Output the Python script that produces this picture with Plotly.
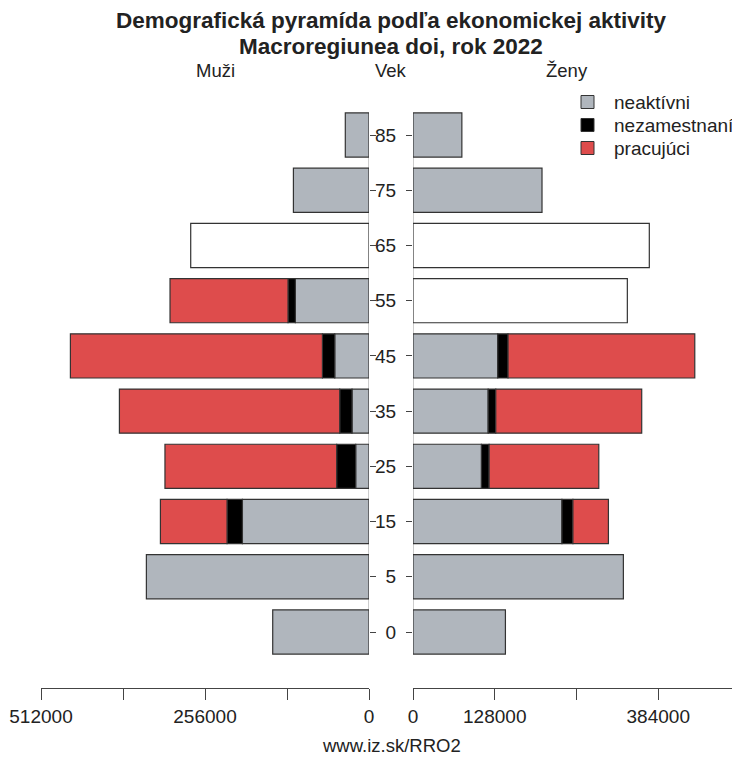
import plotly.graph_objects as go

# vekove skupiny (zdola nahor)
ages = ["0", "5", "15", "25", "35", "45", "55", "65", "75", "85"]

# muzi
men_inactive = [150300, 347500, 197600, 20800, 26500, 53500, 114900, None, 118000, 37000]
men_unemployed = [None, None, 24000, 29700, 19200, 19200, 11500, None, None, None]
men_working = [None, None, 104000, 268000, 343900, 393400, 184200, None, None, None]
men_total_only = [None, None, None, None, None, None, None, 278300, None, None]

# zeny
women_inactive = [144700, 329400, 233200, 107200, 117700, 132700, None, None, 202000, 76500]
women_unemployed = [None, None, 17200, 12000, 11900, 16100, None, None, None, None]
women_working = [None, None, 55600, 171700, 228500, 292400, None, None, None, None]
women_total_only = [None, None, None, None, None, None, 335600, 370000, None, None]

series_names = ["neaktívni", "nezamestnaní", "pracujúci"]
series_colors = ["#B0B6BD", "#000000", "#DE4C4C"]

x_ticks = [0, 128000, 256000, 384000, 512000]
left_tick_text = ["0", "", "256000", "", "512000"]
right_tick_text = ["0", "128000", "", "384000", ""]
x_max = 512000

# stranka ma okraj 8 px (body margin); figura sa musi zmestit bez posuvnikov
PAGE_OFF = 8
W, H = 740 - 2 * PAGE_OFF, 764 - 2 * PAGE_OFF
TOP, BOTTOM = 100 - PAGE_OFF, 688 - PAGE_OFF
FONT = "Liberation Sans, Arial, sans-serif"
TEXT = "#222222"
OUTLINE = dict(color="#333333", width=1.2)

# pravy panel: 0 pri x=413, 512000 by bolo pri x=740 (mimo figury)
right_end_px = PAGE_OFF + W
right_max = x_max * (right_end_px - 413) / (740 - 413)

pos = list(range(len(ages)))


def px_x(x):
    return (x - PAGE_OFF) / W


def px_y(y):
    return (BOTTOM - (y - PAGE_OFF)) / (BOTTOM - TOP)


fig = go.Figure()

men = [men_inactive, men_unemployed, men_working]
women = [women_inactive, women_unemployed, women_working]
for name, color, m, w in zip(series_names, series_colors, men, women):
    fig.add_trace(go.Bar(
        y=pos, x=m, orientation="h", name=name, showlegend=False,
        marker=dict(color=color, line=OUTLINE), width=0.8,
        xaxis="x", yaxis="y",
    ))
    fig.add_trace(go.Bar(
        y=pos, x=w, orientation="h", name=name, showlegend=False,
        marker=dict(color=color, line=OUTLINE), width=0.8,
        xaxis="x2", yaxis="y2",
    ))

fig.add_trace(go.Bar(y=pos, x=men_total_only, orientation="h", showlegend=False,
                     marker=dict(color="white", line=OUTLINE), width=0.8,
                     xaxis="x", yaxis="y"))
fig.add_trace(go.Bar(y=pos, x=women_total_only, orientation="h", showlegend=False,
                     marker=dict(color="white", line=OUTLINE), width=0.8,
                     xaxis="x2", yaxis="y2"))

y_range = [-1.014, 9.634]
axis_common = dict(
    tickvals=x_ticks, showline=True, linecolor="#444444", linewidth=1,
    ticks="outside", ticklen=11, tickcolor="#444444", showgrid=False, zeroline=False,
    tickfont=dict(size=19, color=TEXT, family=FONT), fixedrange=True,
    automargin=False,
)

fig.update_layout(
    width=W, height=H,
    margin=dict(l=0, r=0, t=TOP, b=H - BOTTOM, autoexpand=False),
    paper_bgcolor="white", plot_bgcolor="white",
    barmode="relative", bargap=0.2,
    font=dict(family=FONT, color=TEXT),
    xaxis=dict(domain=[px_x(41), px_x(369)], range=[x_max, 0],
               ticktext=left_tick_text, anchor="y", **axis_common),
    xaxis2=dict(domain=[px_x(413), 1.0], range=[0, right_max],
                ticktext=right_tick_text, anchor="y2", **axis_common),
    yaxis=dict(range=y_range, anchor="x", side="right", tickvals=pos,
               showticklabels=False, ticks="outside", ticklen=6, tickcolor="#444444",
               showline=False, showgrid=False, zeroline=False, automargin=False),
    yaxis2=dict(range=y_range, anchor="x2", side="left", tickvals=pos, ticktext=ages,
                ticks="outside", ticklen=6, tickcolor="#444444", ticklabelstandoff=6,
                tickfont=dict(size=19, color=TEXT), automargin=False,
                showline=False, showgrid=False, zeroline=False),
    showlegend=False,
)

# nulove osi
for xr, yr in (("x", "y"), ("x2", "y2")):
    fig.add_shape(type="line", xref=xr, yref=yr, x0=0, x1=0, y0=-0.4, y1=9.4,
                  line=dict(color="#999999", width=1), layer="below")

# legenda (rucne, kvoli hustejsiemu riadkovaniu)
legend_rows_y = [102, 125, 148]
for name, color, y in zip(series_names, series_colors, legend_rows_y):
    fig.add_shape(type="rect", xref="paper", yref="paper",
                  x0=px_x(581), x1=px_x(594), y0=px_y(y - 6.5), y1=px_y(y + 6.5),
                  fillcolor=color, line=dict(color="#333333", width=1))
    fig.add_annotation(text=name, x=px_x(612), y=px_y(y), xref="paper", yref="paper",
                       xanchor="left", yanchor="middle", showarrow=False,
                       font=dict(size=19, color=TEXT, family=FONT))

texts = [
    ("<b>Demografická pyramída podľa ekonomickej aktivity</b>", 391, 20, 22.5),
    ("<b>Macroregiunea doi, rok 2022</b>", 391, 46, 22.5),
    ("Muži", 215, 70, 18.5),
    ("Vek", 391, 70, 18.5),
    ("Ženy", 567, 70, 18.5),
    ("www.iz.sk/RRO2", 391, 745, 18.5),
]
for txt, x, y, size in texts:
    fig.add_annotation(text=txt, x=px_x(x), y=px_y(y), xref="paper", yref="paper",
                       xanchor="center", yanchor="middle", showarrow=False,
                       font=dict(size=size, color=TEXT, family=FONT))

fig.write_html("out.html")
